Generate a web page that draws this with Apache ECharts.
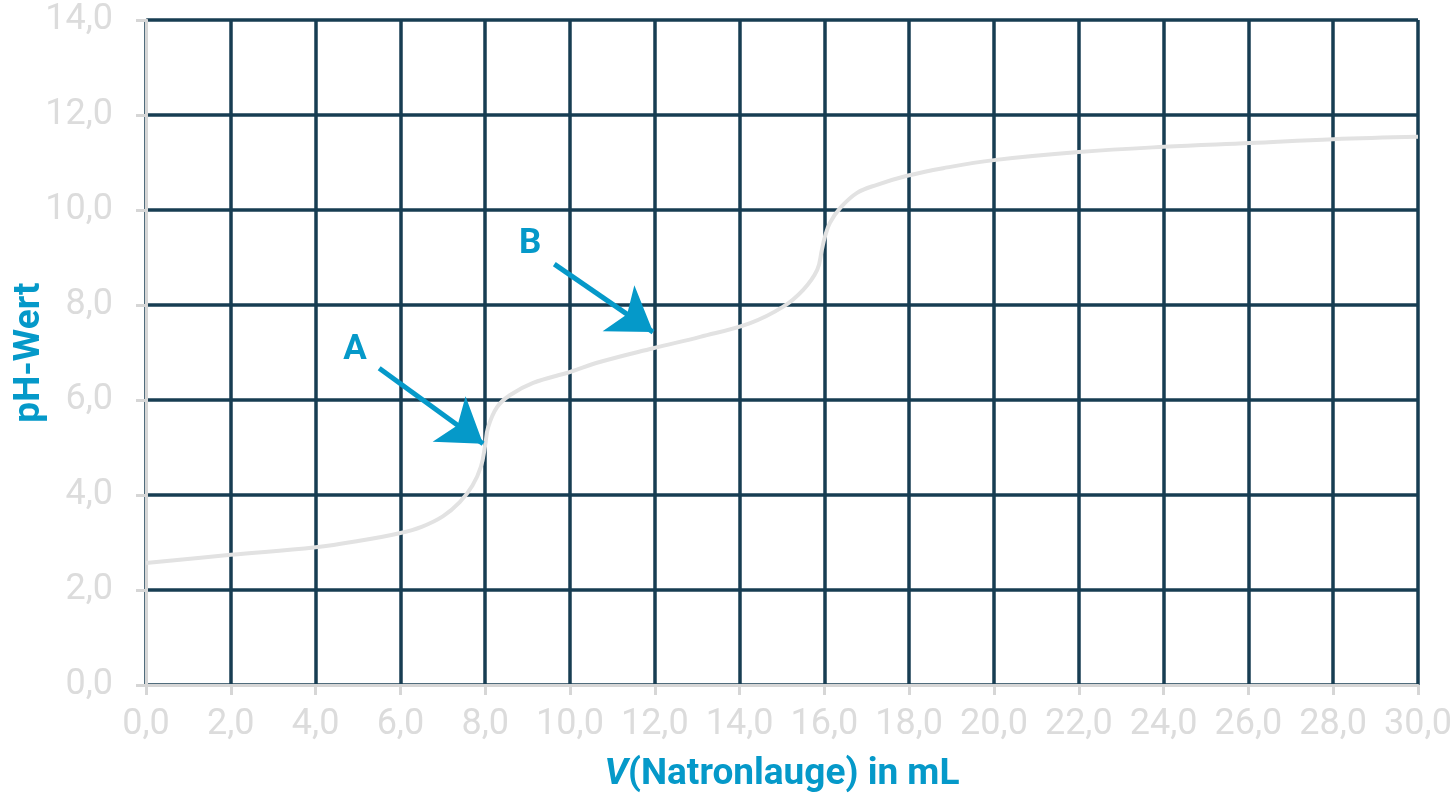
<!DOCTYPE html>
<html><head><meta charset="utf-8">
<script src="https://cdn.jsdelivr.net/npm/echarts@6/dist/echarts.min.js"></script>
<style>html,body{margin:0;padding:0;background:#fff}#c{width:1452px;height:800px}</style>
</head><body><div id="c"></div>
<script>
const volumes = [0, 2, 4, 5, 6, 6.5, 7, 7.4, 7.7, 7.9, 8.0, 8.07, 8.28, 8.58, 9.13, 10.0, 10.7, 11.96, 13.07, 14.25, 15.02, 15.5, 15.83, 15.94, 16.01, 16.13, 16.37, 16.77, 17.24, 17.95, 18.8, 20, 22, 24, 26.04, 28, 30];
const phValues = [2.57, 2.74, 2.9, 3.03, 3.2, 3.33, 3.55, 3.85, 4.2, 4.6, 5.05, 5.43, 5.85, 6.1, 6.36, 6.59, 6.8, 7.09, 7.33, 7.62, 7.96, 8.32, 8.74, 9.16, 9.43, 9.73, 10.04, 10.36, 10.53, 10.72, 10.88, 11.05, 11.22, 11.33, 11.41, 11.49, 11.54];
const annotationLabels = ['A', 'B'];
const labelPositions = [[4.93, 7.05], [9.06, 9.28]];
const arrowStarts = [[5.5, 6.67], [9.63, 8.86]];
const arrowEnds = [[7.95, 5.08], [11.96, 7.43]];

const fmt = v => v.toFixed(1).replace('.', ',');
const blue = '#0599c9';
const chart = echarts.init(document.getElementById('c'));
chart.setOption({
  animation: false,
  grid: { left: 146, right: 34, top: 20, bottom: 115, containLabel: false, outerBoundsMode: 'none' },
  xAxis: {
    type: 'value', min: 0, max: 30, interval: 2,
    name: '{i|V}{n|(Natronlauge) in mL}', nameLocation: 'middle', nameGap: 71, nameMoveOverlap: false,
    nameTextStyle: { rich: {
      i: { fontFamily: 'Roboto', fontWeight: 'bold', fontStyle: 'italic', fontSize: 37, color: blue },
      n: { fontFamily: 'Roboto', fontWeight: 'bold', fontSize: 37, color: blue }
    } },
    axisLine: { show: true, lineStyle: { color: '#d6d6d6', width: 3 } },
    axisTick: { show: true, length: 10, lineStyle: { color: '#d6d6d6', width: 3 } },
    axisLabel: { formatter: fmt, color: '#dcdcdc', fontSize: 36, fontFamily: 'Roboto', margin: 22, hideOverlap: false },
    splitLine: { show: true, lineStyle: { color: '#173d52', width: 3.5 } }
  },
  yAxis: {
    type: 'value', min: 0, max: 14, interval: 2,
    name: 'pH-Wert', nameLocation: 'middle', nameGap: 98, nameMoveOverlap: false,
    nameTextStyle: { fontFamily: 'Roboto', fontWeight: 'bold', fontSize: 37, color: blue },
    axisLine: { show: true, lineStyle: { color: '#d6d6d6', width: 3 } },
    axisTick: { show: true, length: 10, lineStyle: { color: '#d6d6d6', width: 3 } },
    axisLabel: { formatter: fmt, color: '#dcdcdc', fontSize: 36, fontFamily: 'Roboto', margin: 33 },
    splitLine: { show: true, lineStyle: { color: '#173d52', width: 3.5 } }
  },
  series: [
    {
      type: 'line', smooth: 0.4, showSymbol: false,
      data: volumes.map((v, i) => [v, phValues[i]]),
      lineStyle: { color: '#e2e2e2', width: 4 },
      z: 3,
      markLine: {
        silent: true, symbol: ['none', 'arrow'], symbolSize: 42,
        label: { show: false },
        lineStyle: { color: blue, width: 5, type: 'solid' },
        data: arrowStarts.map((s, i) => [{ coord: s }, { coord: arrowEnds[i] }])
      }
    },
    {
      type: 'scatter', symbolSize: 0, z: 5, silent: true,
      itemStyle: { opacity: 1 },
      data: labelPositions.map((p, i) => ({ value: p, name: annotationLabels[i] })),
      label: { show: true, position: 'inside', formatter: p => p.name,
        fontFamily: 'Roboto', fontWeight: 'bold', fontSize: 35, color: blue, opacity: 1,
        textBorderWidth: 0, textShadowBlur: 0 }
    }
  ]
});
</script></body></html>
